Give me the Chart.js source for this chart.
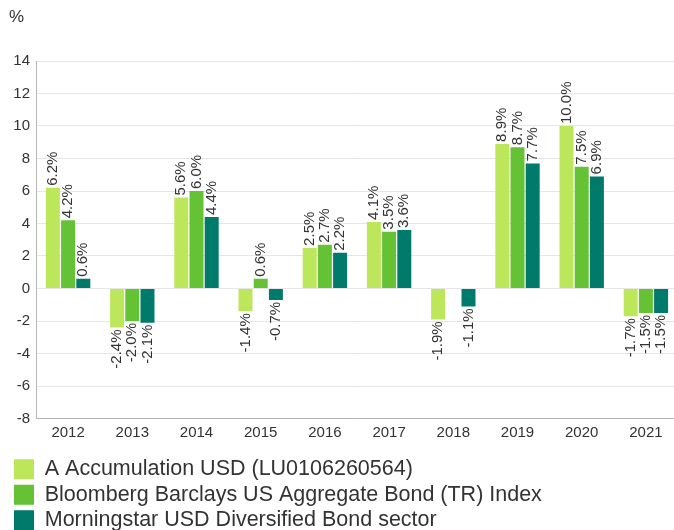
<!DOCTYPE html>
<html>
<head>
<meta charset="utf-8">
<script src="https://cdn.jsdelivr.net/npm/chart.js@4/dist/chart.umd.min.js"></script>
<style>
  html, body { margin: 0; padding: 0; background: #fff; overflow: hidden; }
  #wrap { position: relative; width: 678px; height: 541px; }
</style>
</head>
<body>
<div id="wrap"><canvas id="chart"></canvas></div>
<script>
// Calendar-year returns, %
const years = ['2012', '2013', '2014', '2015', '2016', '2017', '2018', '2019', '2020', '2021'];
const fundReturns = [6.2, -2.4, 5.6, -1.4, 2.5, 4.1, -1.9, 8.9, 10.0, -1.7];
const indexReturns = [4.2, -2.0, 6.0, 0.6, 2.7, 3.5, null, 8.7, 7.5, -1.5];
const sectorReturns = [0.6, -2.1, 4.4, -0.7, 2.2, 3.6, -1.1, 7.7, 6.9, -1.5];
const seriesNames = [
  'A Accumulation USD (LU0106260564)',
  'Bloomberg Barclays US Aggregate Bond (TR) Index',
  'Morningstar USD Diversified Bond sector'
];
const yMin = -8, yMax = 14, yStep = 2;

const FONT = '"Liberation Sans", Arial, Helvetica, sans-serif';
const TEXT = '#333333';

// Rotated value labels at the end of each bar
const valueLabels = {
  id: 'valueLabels',
  afterDatasetsDraw(chart) {
    const ctx = chart.ctx;
    chart.data.datasets.forEach((ds, i) => {
      const meta = chart.getDatasetMeta(i);
      meta.data.forEach((bar, j) => {
        const v = ds.data[j];
        if (v === null || v === undefined) return;
        ctx.save();
        ctx.font = '15px ' + FONT;
        ctx.fillStyle = TEXT;
        ctx.textBaseline = 'middle';
        ctx.translate(bar.x, bar.y + (v >= 0 ? -2 : 2));
        ctx.rotate(-Math.PI / 2);
        ctx.textAlign = v >= 0 ? 'left' : 'right';
        ctx.fillText(v.toFixed(1) + '%', 0, 0);
        ctx.restore();
      });
    });
  }
};

// Unit marker above the value axis
const unitMarker = {
  id: 'unitMarker',
  afterDraw(chart) {
    const ctx = chart.ctx;
    ctx.save();
    ctx.font = '17px ' + FONT;
    ctx.fillStyle = TEXT;
    ctx.textAlign = 'left';
    ctx.textBaseline = 'alphabetic';
    ctx.fillText('%', 9, 22);
    ctx.restore();
  }
};

new Chart(document.getElementById('chart'), {
  type: 'bar',
  data: {
    labels: years,
    datasets: [
      { label: seriesNames[0], data: fundReturns, backgroundColor: '#bde75a' },
      { label: seriesNames[1], data: indexReturns, backgroundColor: '#65c234' },
      { label: seriesNames[2], data: sectorReturns, backgroundColor: '#007a6a' }
    ]
  },
  options: {
    responsive: true,
    maintainAspectRatio: false,
    animation: false,
    layout: { padding: { top: 61, left: 10, right: 0, bottom: 0 } },
    datasets: {
      bar: { categoryPercentage: 0.71, barPercentage: 0.92 }
    },
    scales: {
      x: {
        afterFit(scale) { scale.height += 8; },
        grid: { display: false, drawTicks: false },
        border: { display: true, color: '#b5b5b5' },
        ticks: { color: TEXT, font: { family: FONT, size: 15 }, padding: 5, maxRotation: 0 }
      },
      y: {
        min: yMin,
        max: yMax,
        afterFit(scale) { scale.width = 26; },
        grid: { color: '#e6e6e6', drawTicks: false },
        border: { display: true, color: '#b5b5b5' },
        ticks: { stepSize: yStep, color: TEXT, font: { family: FONT, size: 15 }, padding: 6 }
      }
    },
    plugins: {
      legend: {
        position: 'bottom',
        align: 'start',
        labels: {
          boxWidth: 20,
          boxHeight: 20,
          padding: 4,
          color: TEXT,
          font: { family: FONT, size: 21.5 }
        }
      },
      tooltip: { enabled: false },
      title: { display: false }
    }
  },
  plugins: [valueLabels, unitMarker]
});
</script>
</body>
</html>
